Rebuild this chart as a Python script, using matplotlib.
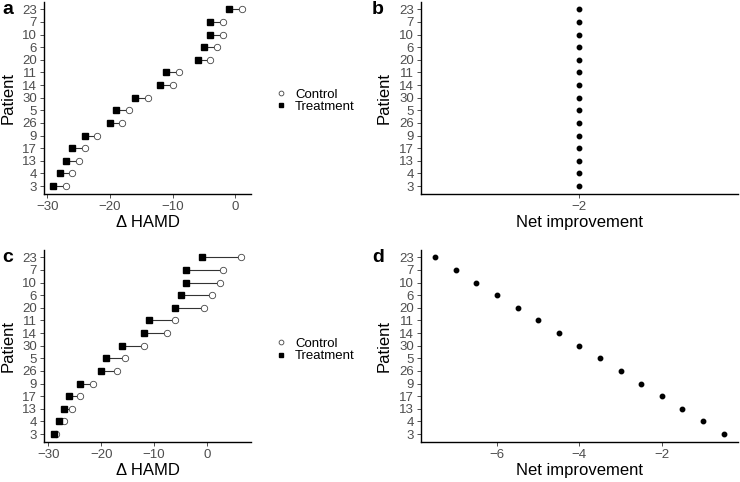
import matplotlib
matplotlib.use("Agg")
import matplotlib.pyplot as plt

plt.rcParams['font.family'] = ['Liberation Sans', 'DejaVu Sans']

# patients, bottom to top
patients = ['3', '4', '13', '17', '9', '26', '5', '30', '14', '11', '20', '6', '10', '7', '23']
treatment = [-29, -28, -27, -26, -24, -20, -19, -16, -12, -11, -6, -5, -4, -4, -1]
control_a = [-27, -26, -25, -24, -22, -18, -17, -14, -10, -9, -4, -3, -2, -2, 1]
control_c = [-28.5, -27, -25.5, -24, -21.5, -17, -15.5, -12, -7.5, -6, -0.5, 1, 2.5, 3, 6.5]
net_b = [-2] * 15
net_d = [-0.5, -1, -1.5, -2, -2.5, -3, -3.5, -4, -4.5, -5, -5.5, -6, -6.5, -7, -7.5]

W, H = 740, 482
fig = plt.figure(figsize=(W / 100, H / 100), dpi=100)


def box(left, right, top, bottom):
    return [left / W, 1 - bottom / H, (right - left) / W, (bottom - top) / H]


def style(ax, xlabel):
    for s in ['top', 'right']:
        ax.spines[s].set_visible(False)
    for s in ['left', 'bottom']:
        ax.spines[s].set_linewidth(1.0)
        ax.spines[s].set_color('black')
    ax.tick_params(length=3, width=0.6, color='#333333', labelcolor='#4d4d4d',
                   labelsize=9.5, pad=2)
    ax.set_yticks(range(len(patients)))
    ax.set_yticklabels(patients)
    ax.set_ylim(-0.6, len(patients) - 0.4)
    ax.set_ylabel('Patient', fontsize=12, labelpad=5)
    ax.set_xlabel(xlabel, fontsize=12, labelpad=2)


def dumbbell(ax, control):
    y = range(len(patients))
    ax.hlines(y, treatment, control, color='#333333', lw=0.8, zorder=1)
    ax.plot(control, y, 'o', ms=4.6, mfc='white', mec='#444444', mew=0.6,
            ls='none', label='Control', zorder=2)
    ax.plot(treatment, y, 's', ms=4.2, color='black', ls='none',
            label='Treatment', zorder=3)


def legend(ax, ycenter):
    ax.legend(loc='center left', bbox_to_anchor=(274 / W, 1 - ycenter / H),
              bbox_transform=fig.transFigure, frameon=False, fontsize=9.5,
              handlelength=1.1, handletextpad=0.5, labelspacing=0.0,
              borderpad=0, borderaxespad=0, markerscale=0.75)


ax_a = fig.add_axes(box(44, 251, 1.7, 193.6))
dumbbell(ax_a, control_a)
ax_a.set_xlim(-30.5, 2.5)
ax_a.set_xticks([-30, -20, -10, 0])
style(ax_a, '\u0394 HAMD')
legend(ax_a, 100.5)

ax_b = fig.add_axes(box(420.7, 738, 1.7, 193.6))
ax_b.plot(net_b, range(len(patients)), 'o', ms=3.2, color='black')
ax_b.set_xlim(-2.5, -1.5)
ax_b.set_xticks([-2])
style(ax_b, 'Net improvement')

ax_c = fig.add_axes(box(44, 251, 249.7, 441.6))
dumbbell(ax_c, control_c)
ax_c.set_xlim(-30.8, 8.3)
ax_c.set_xticks([-30, -20, -10, 0])
style(ax_c, '\u0394 HAMD')
legend(ax_c, 350)

ax_d = fig.add_axes(box(420.7, 738, 249.7, 441.6))
ax_d.plot(net_d, range(len(patients)), 'o', ms=3.2, color='black')
ax_d.set_xlim(-7.85, -0.15)
ax_d.set_xticks([-6, -4, -2])
style(ax_d, 'Net improvement')

for lab, x, y in [('a', 2, 10), ('b', 372, 10), ('c', 2, 257), ('d', 372, 257)]:
    fig.text(x / W, 1 - y / H, lab, fontsize=14, fontweight='bold', va='center')

fig.savefig('out.png', dpi=100)
